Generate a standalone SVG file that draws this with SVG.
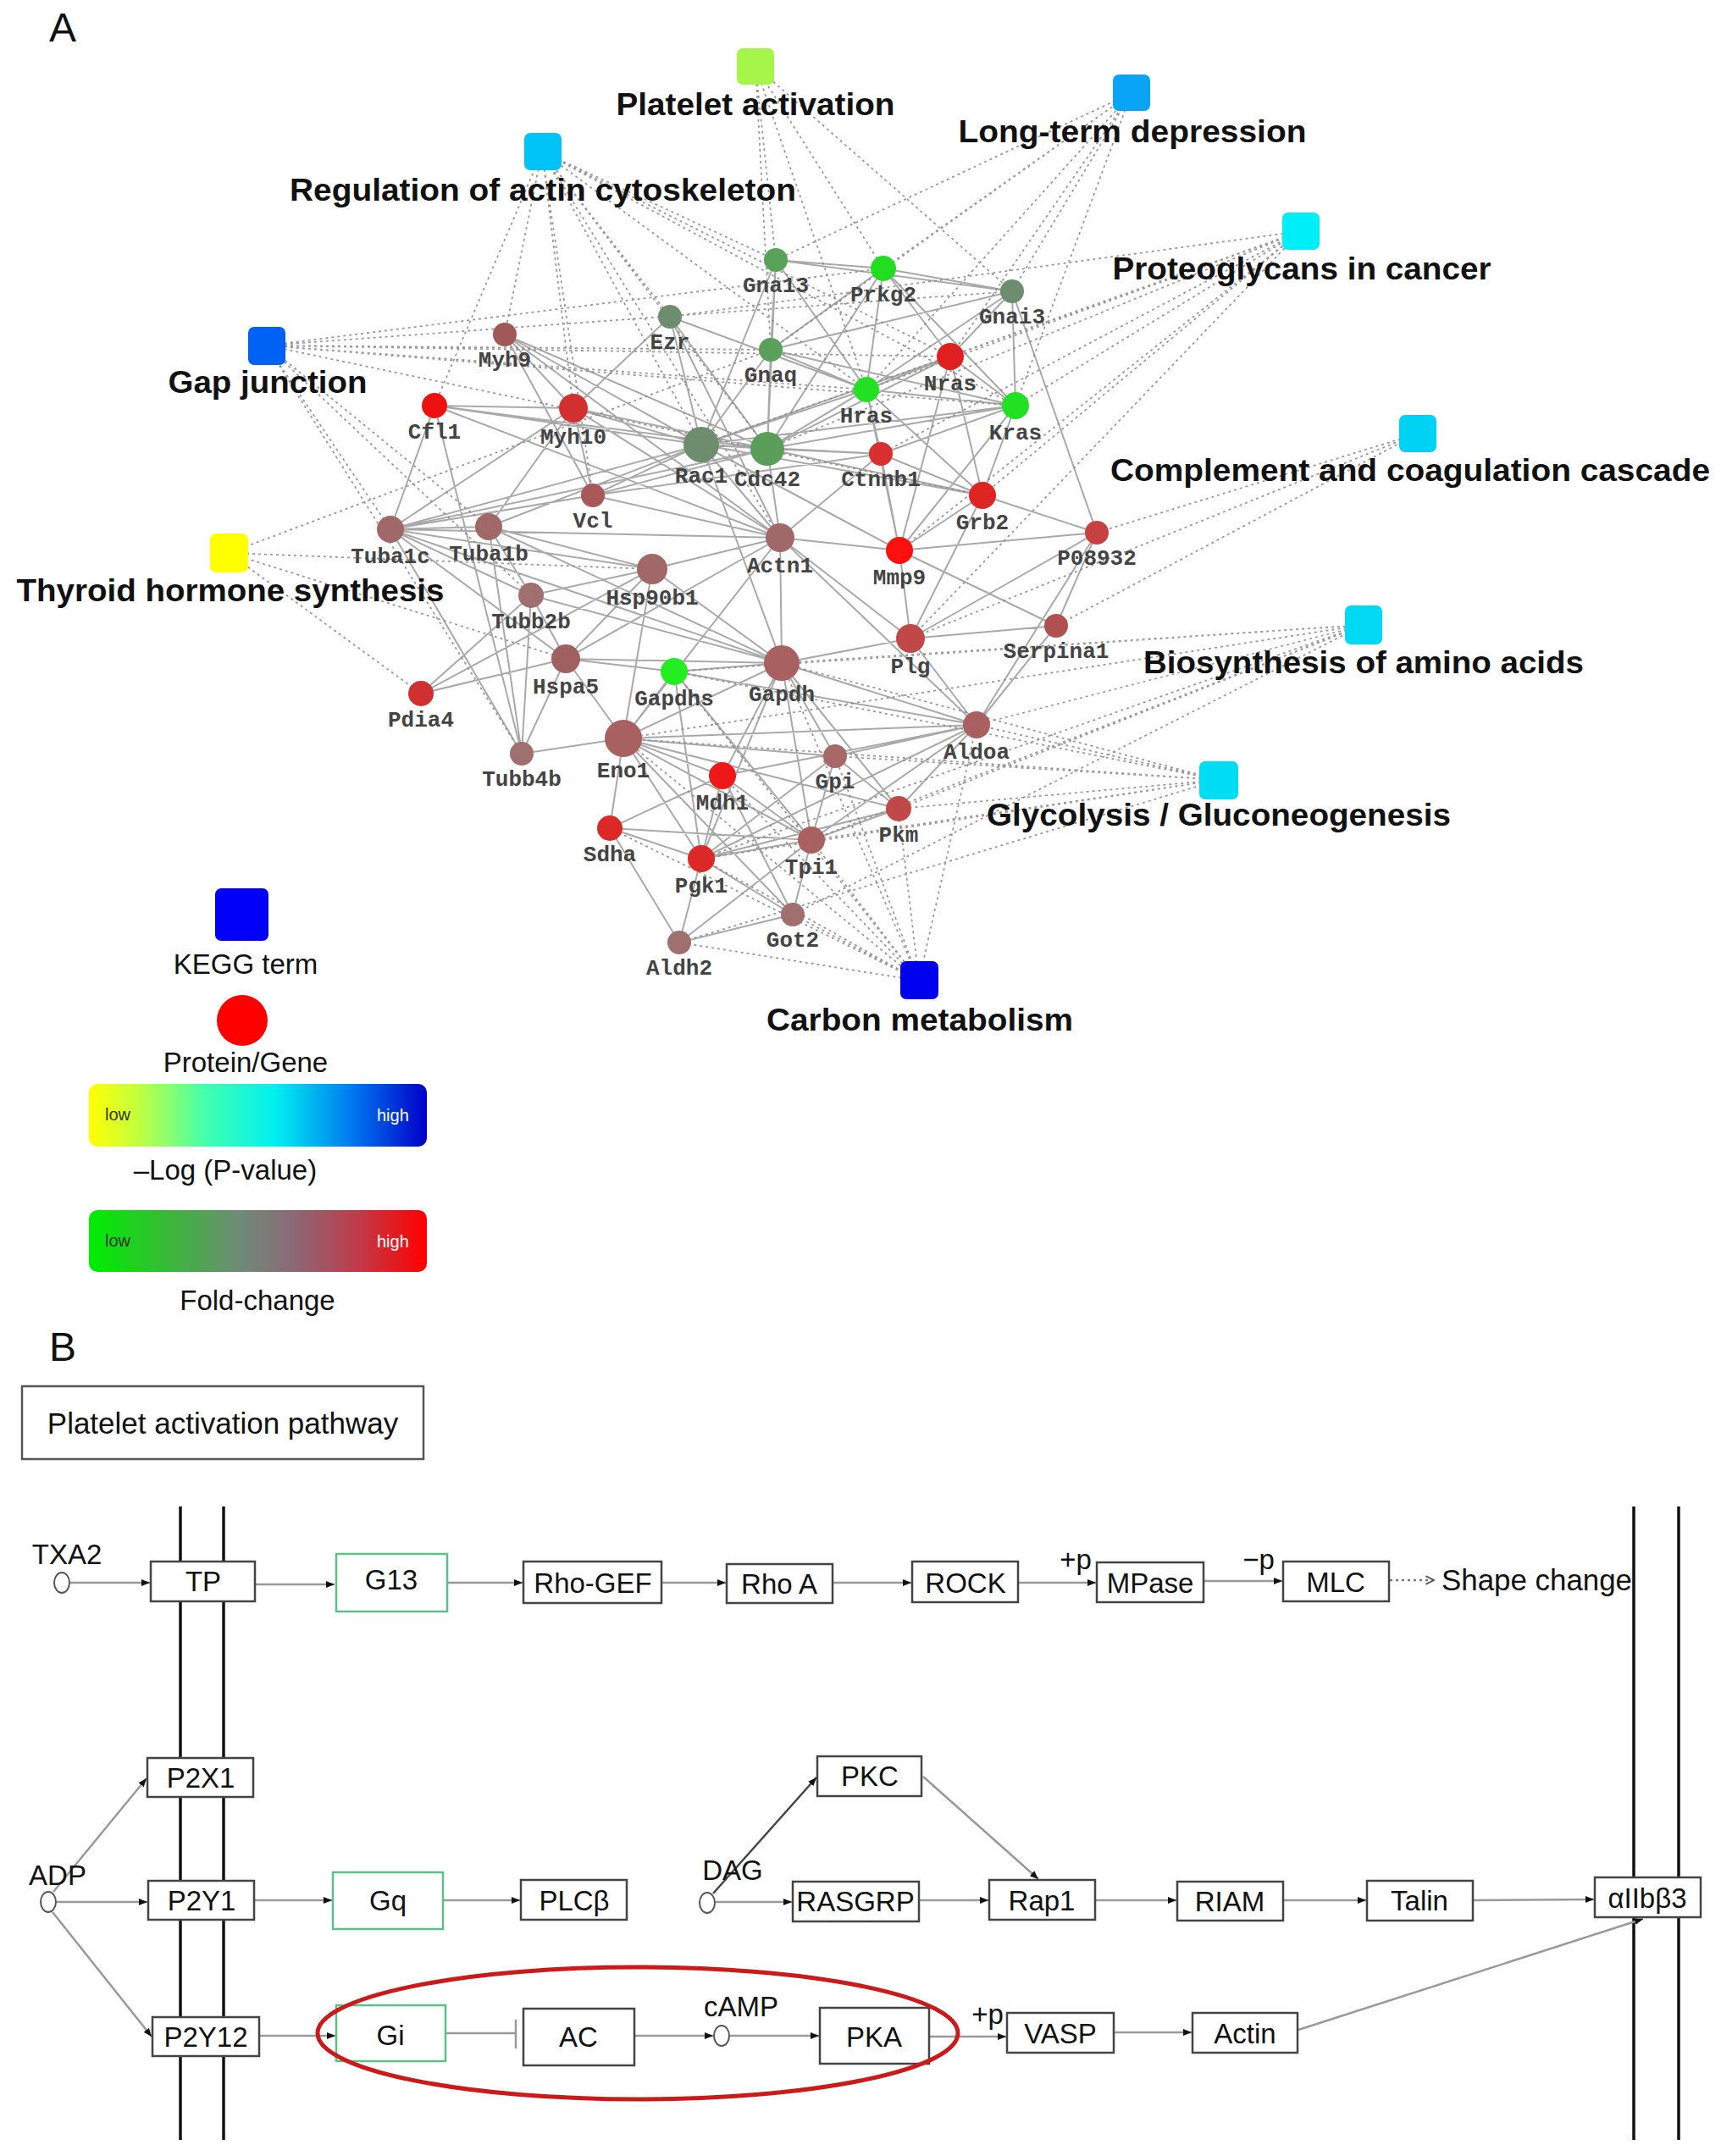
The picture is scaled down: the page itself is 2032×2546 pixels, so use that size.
<svg xmlns="http://www.w3.org/2000/svg" width="2032" height="2546" viewBox="0 0 2032 2546">
<style>
.ppi{fill:none;stroke:#8c8c8c;stroke-width:2;stroke-opacity:0.75}
.kg{fill:none;stroke:#9a9a9a;stroke-width:1.8;stroke-dasharray:3 4}
.gl{font-family:"Liberation Mono",monospace;font-size:26px;font-weight:bold;fill:#444;text-anchor:middle}
.tl{font-family:"Liberation Sans",Arial,sans-serif;font-size:37px;font-weight:bold;fill:#111;text-anchor:middle}
.pl{font-family:"Liberation Sans",Arial,sans-serif;font-size:48px;fill:#111}
.lg{font-family:"Liberation Sans",Arial,sans-serif;font-size:33px;fill:#111;text-anchor:middle}
.bx{fill:#fff;stroke:#444;stroke-width:2.5}
.gbx{fill:#fff;stroke:#5cc08a;stroke-width:2.5}
.bt{font-family:"Liberation Sans",Arial,sans-serif;font-size:33px;fill:#111;text-anchor:middle}
.ar{stroke:#999;stroke-width:2.5;fill:none;marker-end:url(#ah)}
.mem{stroke:#111;stroke-width:3.5}
.term{rx:7}
</style>
<defs>
<marker id="ah" viewBox="0 0 10 10" refX="10" refY="5" markerWidth="10" markerHeight="10" markerUnits="userSpaceOnUse" orient="auto"><path d="M0,1 L10,5 L0,9 z" fill="#111"/></marker>
<marker id="oa" viewBox="0 0 10 10" refX="9" refY="5" markerWidth="12" markerHeight="12" markerUnits="userSpaceOnUse" orient="auto"><path d="M1,1 L9,5 L1,9" fill="none" stroke="#555" stroke-width="1.6"/></marker>
<linearGradient id="gp" x1="0" y1="0" x2="1" y2="0">
<stop offset="0" stop-color="#ffff00"/><stop offset="0.15" stop-color="#c0ff40"/><stop offset="0.35" stop-color="#40ffb0"/><stop offset="0.55" stop-color="#00f0f0"/><stop offset="0.78" stop-color="#0078f0"/><stop offset="1" stop-color="#0000c8"/>
</linearGradient>
<linearGradient id="gf" x1="0" y1="0" x2="1" y2="0">
<stop offset="0" stop-color="#00ee00"/><stop offset="0.2" stop-color="#30c030"/><stop offset="0.45" stop-color="#708a78"/><stop offset="0.6" stop-color="#8a6a78"/><stop offset="0.8" stop-color="#c03a48"/><stop offset="1" stop-color="#ff0000"/>
</linearGradient>
</defs>
<rect width="2032" height="2546" fill="#fff"/>

<text class="pl" x="58" y="49">A</text>

<g id="connectors">
<g id="kegg-edges">
<path class="kg" d="M892 78L916 307M892 78L910 413M892 78L1043 317M892 78L1195 344M892 78L1023 460"/>
<path class="kg" d="M640 179L513 479M640 179L596 395M640 179L677 482M640 179L700 585M640 179L791 374M640 179L828 525M640 179L906 530M640 179L921 635M640 179L916 307M640 179L1023 460M640 179L1122 421M640 179L1199 479"/>
<path class="kg" d="M1336 110L910 413M1336 110L916 307M1336 110L1043 317M1336 110L1195 344M1336 110L1023 460M1336 110L1122 421M1336 110L1199 479"/>
<path class="kg" d="M1536 273L791 374M1536 273L828 525M1536 273L906 530M1536 273L1040 536M1536 273L1023 460M1536 273L1122 421M1536 273L1199 479M1536 273L1160 585M1536 273L1062 650M1536 273L1075 754"/>
<path class="kg" d="M315 408L910 413M315 408L1195 344M315 408L1023 460M315 408L1122 421M315 408L1199 479M315 408L461 625M315 408L577 622M315 408L627 703M315 408L616 890M315 408L1043 317M315 408L1160 585"/>
<path class="kg" d="M1674 512L1075 754M1674 512L1247 739M1674 512L1295 629"/>
<path class="kg" d="M270 653L668 778M270 653L497 819M270 653L770 672M270 653L910 413"/>
<path class="kg" d="M1610 738L923 783M1610 738L828 1014M1610 738L736 872M1610 738L1061 955M1610 738L958 992M1610 738L1153 856M1610 738L936 1080M1610 738L796 793"/>
<path class="kg" d="M1439 921L923 783M1439 921L796 793M1439 921L828 1014M1439 921L736 872M1439 921L1061 955M1439 921L958 992M1439 921L1153 856M1439 921L986 893M1439 921L802 1113"/>
<path class="kg" d="M1085 1158L923 783M1085 1158L796 793M1085 1158L828 1014M1085 1158L736 872M1085 1158L1061 955M1085 1158L958 992M1085 1158L1153 856M1085 1158L986 893M1085 1158L853 916M1085 1158L720 978M1085 1158L936 1080M1085 1158L802 1113"/>
</g>
<path id="ppi-edges" class="ppi" d="M461 625L577 622M461 625L627 703M461 625L616 890M577 622L627 703M577 622L616 890M627 703L616 890M461 625L770 672M461 625L921 635M461 625L828 525M461 625L906 530M461 625L923 783M577 622L770 672M577 622L923 783M577 622L828 525M627 703L770 672M627 703L923 783M616 890L668 778M513 479L616 890M513 479L461 625M513 479L677 482M513 479L921 635M513 479L828 525M513 479L906 530M596 395L677 482M596 395L921 635M596 395L828 525M596 395L906 530M596 395L700 585M677 482L921 635M677 482L700 585M677 482L828 525M677 482L906 530M677 482L461 625M677 482L577 622M700 585L921 635M700 585L828 525M700 585L906 530M700 585L1040 536M700 585L461 625M791 374L828 525M791 374L906 530M791 374L921 635M791 374L1023 460M791 374L677 482M828 525L906 530M828 525L1023 460M828 525L1199 479M828 525L1122 421M828 525L916 307M828 525L910 413M828 525L1040 536M828 525L1160 585M828 525L921 635M828 525L1062 650M828 525L923 783M906 530L1023 460M906 530L1199 479M906 530L1122 421M906 530L916 307M906 530L1040 536M906 530L1160 585M906 530L921 635M906 530L910 413M906 530L1043 317M916 307L910 413M916 307L1195 344M916 307L1043 317M916 307L1023 460M910 413L1195 344M910 413L1043 317M910 413L1023 460M910 413L1199 479M1043 317L1195 344M1043 317L1023 460M1043 317L1122 421M1043 317L1199 479M1195 344L1023 460M1195 344L1199 479M1195 344L1122 421M1195 344L1295 629M1122 421L1023 460M1122 421L1199 479M1122 421L1160 585M1023 460L1199 479M1023 460L1160 585M1023 460L1040 536M1199 479L1160 585M1199 479L1040 536M1040 536L1160 585M1040 536L1062 650M1040 536L921 635M1160 585L1062 650M1160 585L1295 629M1160 585L1075 754M1062 650L1075 754M1062 650L1295 629M1062 650L921 635M1062 650L1247 739M1075 754L1247 739M1075 754L1295 629M1075 754L1153 856M1075 754L921 635M1075 754L923 783M1247 739L1295 629M1247 739L1153 856M1295 629L1153 856M921 635L923 783M921 635L770 672M921 635L736 872M921 635L1153 856M770 672L668 778M770 672L923 783M770 672L497 819M770 672L736 872M668 778L497 819M668 778L923 783M668 778L736 872M668 778L796 793M668 778L461 625M668 778L627 703M497 819L627 703M923 783L796 793M923 783L736 872M923 783L1153 856M923 783L1061 955M923 783L958 992M923 783L828 1014M923 783L986 893M923 783L853 916M796 793L736 872M796 793L828 1014M796 793L958 992M796 793L1153 856M736 872L1061 955M736 872L828 1014M736 872L958 992M736 872L1153 856M736 872L986 893M736 872L853 916M736 872L720 978M736 872L936 1080M736 872L616 890M1153 856L958 992M1153 856L1061 955M1153 856L986 893M1153 856L828 1014M1153 856L853 916M986 893L958 992M986 893L1061 955M986 893L828 1014M853 916L720 978M853 916L936 1080M853 916L828 1014M853 916L958 992M720 978L828 1014M720 978L802 1113M720 978L958 992M828 1014L958 992M828 1014L1061 955M828 1014L802 1113M828 1014L936 1080M958 992L1061 955M958 992L936 1080M936 1080L802 1113M958 992L802 1113M668 778L921 635M1023 460L1062 650M1199 479L1062 650M1122 421L1062 650"/>
</g>

<g id="terms">
<g id="t-platelet"><rect class="term" x="870" y="57" width="44" height="43" fill="#a6f54a"/><text class="tl" x="892" y="136" textLength="329" lengthAdjust="spacingAndGlyphs">Platelet activation</text></g>
<g id="t-ltd"><rect class="term" x="1314" y="88" width="44" height="43" fill="#0aa4f6"/><text class="tl" x="1337" y="168" textLength="411" lengthAdjust="spacingAndGlyphs">Long-term depression</text></g>
<g id="t-actin"><rect class="term" x="619" y="157" width="44" height="44" fill="#00c4f8"/><text class="tl" x="641" y="237" textLength="598" lengthAdjust="spacingAndGlyphs">Regulation of actin cytoskeleton</text></g>
<g id="t-proteo"><rect class="term" x="1514" y="251" width="44" height="44" fill="#00eef8"/><text class="tl" x="1537" y="330" textLength="447" lengthAdjust="spacingAndGlyphs">Proteoglycans in cancer</text></g>
<g id="t-gap"><rect class="term" x="293" y="386" width="44" height="45" fill="#0062f4"/><text class="tl" x="316" y="464" textLength="235" lengthAdjust="spacingAndGlyphs">Gap junction</text></g>
<g id="t-complement"><rect class="term" x="1652" y="490" width="44" height="44" fill="#00d2f4"/><text class="tl" x="1665" y="568" textLength="708" lengthAdjust="spacingAndGlyphs">Complement and coagulation cascade</text></g>
<g id="t-thyroid"><rect class="term" x="248" y="630" width="45" height="46" fill="#ffff00"/><text class="tl" x="272" y="710" textLength="505" lengthAdjust="spacingAndGlyphs">Thyroid hormone synthesis</text></g>
<g id="t-biosyn"><rect class="term" x="1588" y="715" width="44" height="46" fill="#00d8f4"/><text class="tl" x="1610" y="795" textLength="520" lengthAdjust="spacingAndGlyphs">Biosynthesis of amino acids</text></g>
<g id="t-glyco"><rect class="term" x="1416" y="899" width="46" height="45" fill="#00dcf4"/><text class="tl" x="1439" y="975" textLength="548" lengthAdjust="spacingAndGlyphs">Glycolysis / Gluconeogenesis</text></g>
<g id="t-carbon"><rect class="term" x="1063" y="1135" width="45" height="45" fill="#0000f0"/><text class="tl" x="1086" y="1217" textLength="362" lengthAdjust="spacingAndGlyphs">Carbon metabolism</text></g>
</g>

<g id="genes">
<g id="n-Gna13"><circle cx="916" cy="307" r="14" fill="#5aa25a"/><text class="gl" x="916" y="345">Gna13</text></g>
<g id="n-Prkg2"><circle cx="1043" cy="317" r="15" fill="#22dd22"/><text class="gl" x="1043" y="356">Prkg2</text></g>
<g id="n-Gnai3"><circle cx="1195" cy="344" r="14" fill="#6e8c6e"/><text class="gl" x="1195" y="382">Gnai3</text></g>
<g id="n-Ezr"><circle cx="791" cy="374" r="14" fill="#6e8c6e"/><text class="gl" x="791" y="412">Ezr</text></g>
<g id="n-Myh9"><circle cx="596" cy="395" r="14" fill="#a05858"/><text class="gl" x="596" y="433">Myh9</text></g>
<g id="n-Gnaq"><circle cx="910" cy="413" r="14" fill="#5aa05a"/><text class="gl" x="910" y="451">Gnaq</text></g>
<g id="n-Nras"><circle cx="1122" cy="421" r="16" fill="#e02020"/><text class="gl" x="1122" y="461">Nras</text></g>
<g id="n-Hras"><circle cx="1023" cy="460" r="15" fill="#22e022"/><text class="gl" x="1023" y="499">Hras</text></g>
<g id="n-Kras"><circle cx="1199" cy="479" r="16" fill="#22e022"/><text class="gl" x="1199" y="519">Kras</text></g>
<g id="n-Cfl1"><circle cx="513" cy="479" r="15" fill="#ee1111"/><text class="gl" x="513" y="518">Cfl1</text></g>
<g id="n-Myh10"><circle cx="677" cy="482" r="17" fill="#d23030"/><text class="gl" x="677" y="524">Myh10</text></g>
<g id="n-Rac1"><circle cx="828" cy="525" r="21" fill="#6e8c6e"/><text class="gl" x="828" y="570">Rac1</text></g>
<g id="n-Cdc42"><circle cx="906" cy="530" r="20" fill="#5a9e5a"/><text class="gl" x="906" y="574">Cdc42</text></g>
<g id="n-Ctnnb1"><circle cx="1040" cy="536" r="14" fill="#d83030"/><text class="gl" x="1040" y="574">Ctnnb1</text></g>
<g id="n-Grb2"><circle cx="1160" cy="585" r="16" fill="#e02424"/><text class="gl" x="1160" y="625">Grb2</text></g>
<g id="n-Vcl"><circle cx="700" cy="585" r="14" fill="#a85858"/><text class="gl" x="700" y="623">Vcl</text></g>
<g id="n-Tuba1c"><circle cx="461" cy="625" r="16" fill="#a06868"/><text class="gl" x="461" y="665">Tuba1c</text></g>
<g id="n-Tuba1b"><circle cx="577" cy="622" r="16" fill="#a06868"/><text class="gl" x="577" y="662">Tuba1b</text></g>
<g id="n-Actn1"><circle cx="921" cy="635" r="17" fill="#a06868"/><text class="gl" x="921" y="676">Actn1</text></g>
<g id="n-Mmp9"><circle cx="1062" cy="650" r="16" fill="#ff1010"/><text class="gl" x="1062" y="690">Mmp9</text></g>
<g id="n-P08932"><circle cx="1295" cy="629" r="14" fill="#c84040"/><text class="gl" x="1295" y="667">P08932</text></g>
<g id="n-Hsp90b1"><circle cx="770" cy="672" r="18" fill="#a06868"/><text class="gl" x="770" y="714">Hsp90b1</text></g>
<g id="n-Tubb2b"><circle cx="627" cy="703" r="15" fill="#a07070"/><text class="gl" x="627" y="742">Tubb2b</text></g>
<g id="n-Serpina1"><circle cx="1247" cy="739" r="14" fill="#b05050"/><text class="gl" x="1247" y="777">Serpina1</text></g>
<g id="n-Plg"><circle cx="1075" cy="754" r="17" fill="#c04848"/><text class="gl" x="1075" y="795">Plg</text></g>
<g id="n-Hspa5"><circle cx="668" cy="778" r="17" fill="#a06060"/><text class="gl" x="668" y="819">Hspa5</text></g>
<g id="n-Gapdhs"><circle cx="796" cy="793" r="16" fill="#22ee22"/><text class="gl" x="796" y="833">Gapdhs</text></g>
<g id="n-Gapdh"><circle cx="923" cy="783" r="21" fill="#a86060"/><text class="gl" x="923" y="828">Gapdh</text></g>
<g id="n-Pdia4"><circle cx="497" cy="819" r="15" fill="#d03030"/><text class="gl" x="497" y="858">Pdia4</text></g>
<g id="n-Aldoa"><circle cx="1153" cy="856" r="16" fill="#a86060"/><text class="gl" x="1153" y="896">Aldoa</text></g>
<g id="n-Eno1"><circle cx="736" cy="872" r="22" fill="#a86060"/><text class="gl" x="736" y="918">Eno1</text></g>
<g id="n-Tubb4b"><circle cx="616" cy="890" r="14" fill="#a07070"/><text class="gl" x="616" y="928">Tubb4b</text></g>
<g id="n-Gpi"><circle cx="986" cy="893" r="14" fill="#a86868"/><text class="gl" x="986" y="931">Gpi</text></g>
<g id="n-Mdh1"><circle cx="853" cy="916" r="16" fill="#ee1818"/><text class="gl" x="853" y="956">Mdh1</text></g>
<g id="n-Pkm"><circle cx="1061" cy="955" r="15" fill="#c04848"/><text class="gl" x="1061" y="994">Pkm</text></g>
<g id="n-Sdha"><circle cx="720" cy="978" r="15" fill="#dd2828"/><text class="gl" x="720" y="1017">Sdha</text></g>
<g id="n-Tpi1"><circle cx="958" cy="992" r="16" fill="#a86060"/><text class="gl" x="958" y="1032">Tpi1</text></g>
<g id="n-Pgk1"><circle cx="828" cy="1014" r="16" fill="#dd2828"/><text class="gl" x="828" y="1054">Pgk1</text></g>
<g id="n-Got2"><circle cx="936" cy="1080" r="14" fill="#a07070"/><text class="gl" x="936" y="1118">Got2</text></g>
<g id="n-Aldh2"><circle cx="802" cy="1113" r="14" fill="#a07070"/><text class="gl" x="802" y="1151">Aldh2</text></g>
</g>

<g id="legend">
<rect x="254" y="1049" width="63" height="62" rx="7" fill="#0000f8"/>
<text class="lg" x="290" y="1150">KEGG term</text>
<circle cx="286" cy="1205" r="30" fill="#ff0000"/>
<text class="lg" x="290" y="1266">Protein/Gene</text>
<rect x="105" y="1280" width="399" height="74" rx="10" fill="url(#gp)"/>
<text x="124" y="1323" font-family="Liberation Sans,Arial,sans-serif" font-size="20" fill="#333">low</text>
<text x="445" y="1324" font-family="Liberation Sans,Arial,sans-serif" font-size="20" fill="#fff">high</text>
<text class="lg" x="266" y="1393">–Log (P-value)</text>
<rect x="105" y="1429" width="399" height="73" rx="10" fill="url(#gf)"/>
<text x="124" y="1472" font-family="Liberation Sans,Arial,sans-serif" font-size="20" fill="#333">low</text>
<text x="445" y="1473" font-family="Liberation Sans,Arial,sans-serif" font-size="20" fill="#fff">high</text>
<text class="lg" x="304" y="1547">Fold-change</text>
</g>

<text class="pl" x="58" y="1607">B</text>

<g id="title-box"><rect x="26" y="1637" width="474" height="86" fill="#fff" stroke="#555" stroke-width="2.5"/><text x="263" y="1693" font-family="Liberation Sans,Arial,sans-serif" font-size="35" fill="#111" text-anchor="middle">Platelet activation pathway</text></g>

<g id="membranes">
<line class="mem" x1="213" y1="1779" x2="213" y2="2527"/>
<line class="mem" x1="264" y1="1779" x2="264" y2="2527"/>
<line class="mem" x1="1929" y1="1779" x2="1929" y2="2527"/>
<line class="mem" x1="1982" y1="1779" x2="1982" y2="2527"/>
</g>

<g id="pathway-connectors">
<line class="ar" x1="83" y1="1869" x2="177" y2="1869"/>
<line class="ar" x1="301" y1="1871" x2="395" y2="1871"/>
<line class="ar" x1="528" y1="1869" x2="617" y2="1869"/>
<line class="ar" x1="781" y1="1869" x2="857" y2="1869"/>
<line class="ar" x1="983" y1="1869" x2="1076" y2="1869"/>
<line class="ar" x1="1202" y1="1869" x2="1294" y2="1869"/>
<line class="ar" x1="1421" y1="1867" x2="1514" y2="1867"/>
<line x1="1641" y1="1866" x2="1693" y2="1866" stroke="#777" stroke-width="2.5" stroke-dasharray="3 4" marker-end="url(#oa)"/>
<line class="ar" x1="63" y1="2234" x2="173" y2="2100"/>
<line class="ar" x1="66" y1="2246" x2="174" y2="2246"/>
<line class="ar" x1="62" y1="2258" x2="179" y2="2405"/>
<line class="ar" x1="300" y1="2244" x2="392" y2="2244"/>
<line class="ar" x1="523" y1="2244" x2="614" y2="2244"/>
<line x1="842" y1="2236" x2="964" y2="2099" stroke="#444" stroke-width="2.5" marker-end="url(#ah)"/>
<line class="ar" x1="845" y1="2246" x2="935" y2="2246"/>
<line class="ar" x1="1085" y1="2244" x2="1167" y2="2244"/>
<line class="ar" x1="1090" y1="2098" x2="1226" y2="2219"/>
<line class="ar" x1="1293" y1="2244" x2="1389" y2="2244"/>
<line class="ar" x1="1515" y1="2244" x2="1613" y2="2244"/>
<line class="ar" x1="1739" y1="2244" x2="1882" y2="2243"/>
<line class="ar" x1="306" y1="2404" x2="396" y2="2404"/>
<line x1="526" y1="2401" x2="609" y2="2401" stroke="#999" stroke-width="2.5"/>
<line x1="609" y1="2385" x2="609" y2="2419" stroke="#999" stroke-width="2.5"/>
<line class="ar" x1="749" y1="2404" x2="842" y2="2404"/>
<line class="ar" x1="862" y1="2404" x2="967" y2="2404"/>
<line class="ar" x1="1097" y1="2405" x2="1188" y2="2405"/>
<line class="ar" x1="1315" y1="2400" x2="1407" y2="2400"/>
<line class="ar" x1="1533" y1="2397" x2="1940" y2="2266"/>
</g>

<g id="small-molecules">
<g id="m-TXA2"><ellipse cx="73" cy="1869" rx="9" ry="12" fill="#fff" stroke="#555" stroke-width="2"/><text class="bt" x="79" y="1847">TXA2</text></g>
<g id="m-ADP"><ellipse cx="57" cy="2246" rx="9" ry="12" fill="#fff" stroke="#555" stroke-width="2"/><text class="bt" x="68" y="2226">ADP</text></g>
<g id="m-DAG"><ellipse cx="835" cy="2247" rx="9" ry="12" fill="#fff" stroke="#555" stroke-width="2"/><text class="bt" x="865" y="2220">DAG</text></g>
<g id="m-cAMP"><ellipse cx="852" cy="2404" rx="9" ry="12" fill="#fff" stroke="#555" stroke-width="2"/><text class="bt" x="875" y="2381">cAMP</text></g>
</g>

<g id="pathway-nodes">
<g id="b-TP"><rect class="bx" x="178" y="1844" width="123" height="47"/><text class="bt" x="240" y="1879">TP</text></g>
<g id="b-G13"><rect class="gbx" x="397" y="1835" width="131" height="68"/><text class="bt" x="462" y="1877">G13</text></g>
<g id="b-RhoGEF"><rect class="bx" x="618" y="1844" width="163" height="49"/><text class="bt" x="700" y="1881">Rho-GEF</text></g>
<g id="b-RhoA"><rect class="bx" x="858" y="1847" width="125" height="46"/><text class="bt" x="920" y="1882">Rho A</text></g>
<g id="b-ROCK"><rect class="bx" x="1077" y="1844" width="125" height="48"/><text class="bt" x="1140" y="1881">ROCK</text></g>
<g id="b-MPase"><rect class="bx" x="1295" y="1845" width="126" height="47"/><text class="bt" x="1358" y="1881">MPase</text></g>
<g id="b-MLC"><rect class="bx" x="1515" y="1844" width="125" height="47"/><text class="bt" x="1577" y="1880">MLC</text></g>
<text class="bt" x="1270" y="1853" font-size="30">+p</text>
<text class="bt" x="1486" y="1853" font-size="30">−p</text>
<text x="1702" y="1878" font-family="Liberation Sans,Arial,sans-serif" font-size="35" fill="#111" textLength="225" lengthAdjust="spacingAndGlyphs">Shape change</text>
<g id="b-P2X1"><rect class="bx" x="174" y="2076" width="125" height="46"/><text class="bt" x="237" y="2111">P2X1</text></g>
<g id="b-P2Y1"><rect class="bx" x="175" y="2221" width="125" height="46"/><text class="bt" x="238" y="2256">P2Y1</text></g>
<g id="b-Gq"><rect class="gbx" x="393" y="2211" width="130" height="67"/><text class="bt" x="458" y="2256">Gq</text></g>
<g id="b-PLCb"><rect class="bx" x="615" y="2220" width="125" height="47"/><text class="bt" x="678" y="2256">PLCβ</text></g>
<g id="b-PKC"><rect class="bx" x="965" y="2074" width="123" height="47"/><text class="bt" x="1027" y="2109">PKC</text></g>
<g id="b-RASGRP"><rect class="bx" x="936" y="2222" width="149" height="47"/><text class="bt" x="1010" y="2257">RASGRP</text></g>
<g id="b-Rap1"><rect class="bx" x="1168" y="2220" width="125" height="47"/><text class="bt" x="1230" y="2256">Rap1</text></g>
<g id="b-RIAM"><rect class="bx" x="1390" y="2222" width="125" height="46"/><text class="bt" x="1452" y="2257">RIAM</text></g>
<g id="b-Talin"><rect class="bx" x="1614" y="2221" width="125" height="47"/><text class="bt" x="1676" y="2256">Talin</text></g>
<g id="b-aIIbb3"><rect class="bx" x="1883" y="2217" width="125" height="47"/><text class="bt" x="1945" y="2253">αIIbβ3</text></g>
<g id="b-P2Y12"><rect class="bx" x="180" y="2382" width="126" height="46"/><text class="bt" x="243" y="2417">P2Y12</text></g>
<g id="b-Gi"><rect class="gbx" x="397" y="2368" width="129" height="66"/><text class="bt" x="461" y="2415">Gi</text></g>
<g id="b-AC"><rect class="bx" x="618" y="2372" width="131" height="67"/><text class="bt" x="683" y="2417">AC</text></g>
<g id="b-PKA"><rect class="bx" x="968" y="2371" width="129" height="66"/><text class="bt" x="1032" y="2417">PKA</text></g>
<text class="bt" x="1166" y="2390" font-size="30">+p</text>
<g id="b-VASP"><rect class="bx" x="1189" y="2377" width="126" height="47"/><text class="bt" x="1252" y="2413">VASP</text></g>
<g id="b-Actin"><rect class="bx" x="1408" y="2377" width="124" height="47"/><text class="bt" x="1470" y="2413">Actin</text></g>
</g>

<ellipse id="highlight" cx="753" cy="2401" rx="378" ry="78" fill="none" stroke="#cc1a1a" stroke-width="5"/>
</svg>
